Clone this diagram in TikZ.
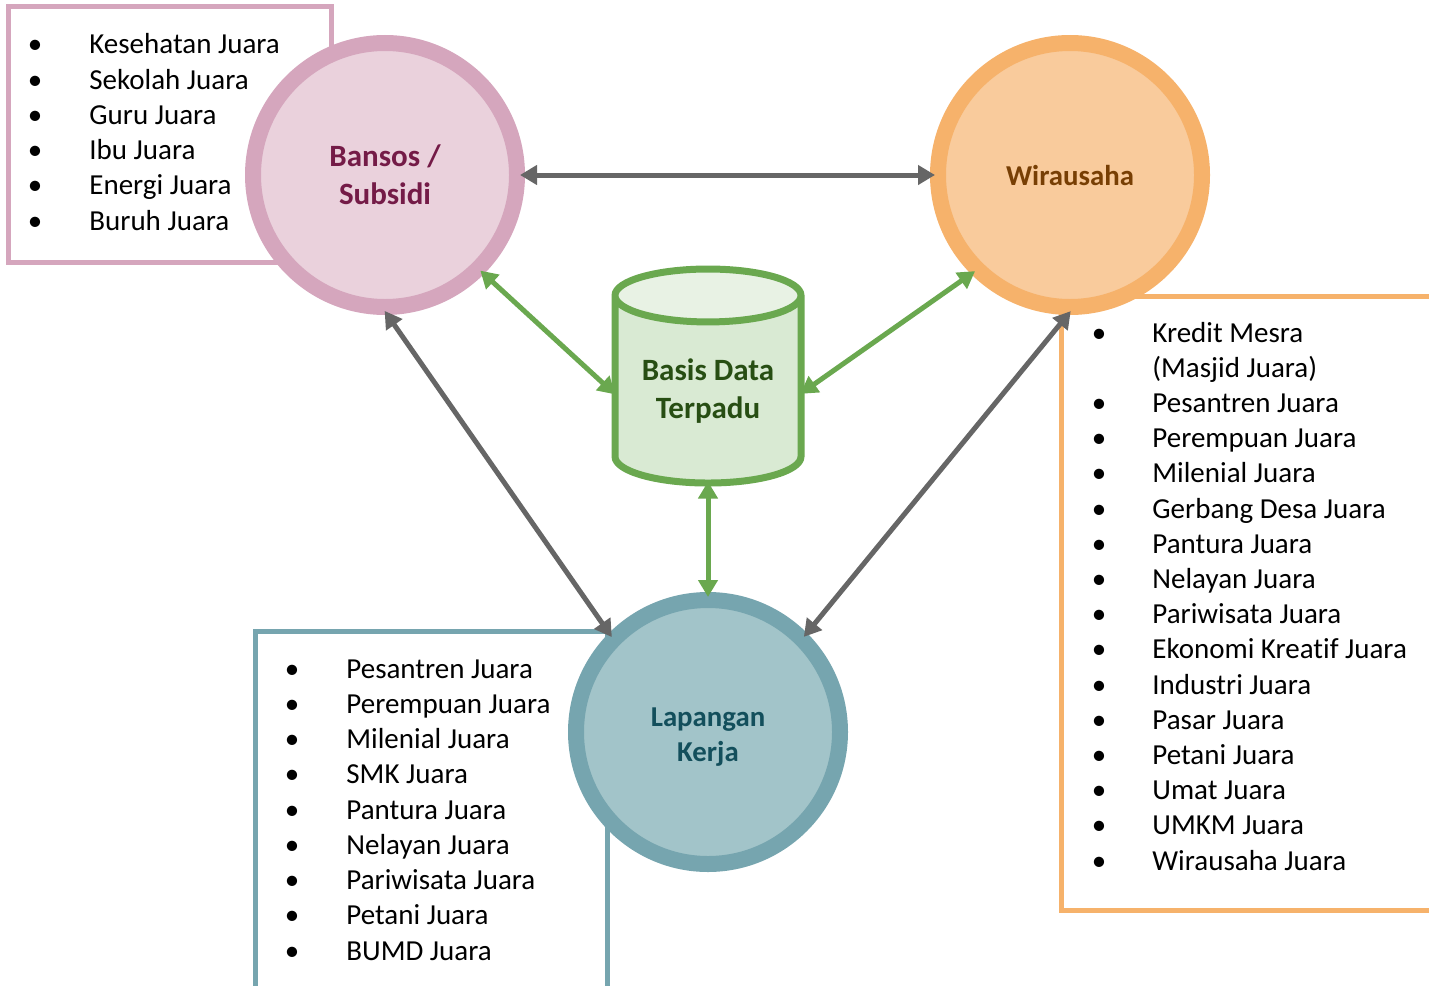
\documentclass[tikz,border=0pt]{standalone}
\usepackage{fontspec}
\setmainfont[Ligatures={NoCommon,NoRare}]{Carlito}
\usetikzlibrary{arrows.meta,shapes.geometric}
\definecolor{bansosring}{HTML}{D5A6BD}
\definecolor{bansosfill}{HTML}{EAD1DC}
\definecolor{bansostext}{HTML}{741B47}
\definecolor{wiraring}{HTML}{F6B26B}
\definecolor{wirafill}{HTML}{F9CB9C}
\definecolor{wiratext}{HTML}{783F04}
\definecolor{lapring}{HTML}{76A5AF}
\definecolor{lapfill}{HTML}{A2C4C9}
\definecolor{laptext}{HTML}{134F5C}
\definecolor{dbline}{HTML}{6AA84F}
\definecolor{dbfill}{HTML}{D9EAD3}
\definecolor{dbtop}{HTML}{E8F2E4}
\definecolor{dbtext}{HTML}{274E13}
\definecolor{linkgray}{HTML}{666666}
\tikzset{
  ring/.style={circle, minimum size=132pt, line width=8pt, inner sep=0pt, align=center,
    font=\bfseries\fontsize{14.4pt}{17.5pt}\selectfont},
  bul/.style={anchor=base, inner sep=0pt, font=\fontsize{14.5pt}{17.6pt}\selectfont},
  itm/.style={anchor=base west, inner sep=0pt, font=\fontsize{14.5pt}{17.6pt}\selectfont},
  listbox/.style={line width=2.5pt},
  link/.style={line width=2.5pt, draw=linkgray, shorten <=-2.5pt, shorten >=-2.5pt,
    {Triangle[length=8.5pt,width=9.5pt]}-{Triangle[length=8.5pt,width=9.5pt]}},
  glink/.style={link, draw=dbline},
}
\begin{document}
\begin{tikzpicture}[x=0.5pt, y=-0.5pt]
  \useasboundingbox (0,0) rectangle (1429,985);

  % list boxes
  \draw[listbox, bansosring] (8,6) rectangle (331,262);
  \draw[listbox, wiraring] (1061,296) rectangle (1445,910);
  \draw[listbox, lapring] (255,631) rectangle (607,1000);

  % circles
  \node[ring, draw=bansosring, fill=bansosfill, text=bansostext,
    font=\bfseries\fontsize{15.5pt}{19pt}\selectfont] (bansos) at (385,175) {Bansos /\\Subsidi};
  \node[ring, draw=wiraring, fill=wirafill, text=wiratext] (wira) at (1070,175) {Wirausaha};
  \node[ring, draw=lapring, fill=lapfill, text=laptext, text height=29.5pt, text depth=0pt] (lap) at (708,732) {Lapangan\\Kerja};

  % database
  \node[cylinder, shape border rotate=90, aspect=0.4, minimum width=93pt, minimum height=107pt,
    line width=3.5pt, draw=dbline, cylinder uses custom fill, cylinder body fill=dbfill,
    cylinder end fill=dbtop, align=center, text=dbtext, inner sep=0pt,
    font=\bfseries\fontsize{15.5pt}{19pt}\selectfont] (db) at (708,391) {Basis Data\\Terpadu};

  % connectors
  \draw[link] (bansos.east) -- (wira.west);
  \draw[link] (bansos.-89) -- (lap.135);
  \draw[link] (wira.-91) -- (lap.45);
  \draw[glink] (bansos.-45) -- (db.west);
  \draw[glink] (wira.-135) -- (db.east);
  \draw[glink] (db.south) -- (lap.north);

  % Bansos list
  \foreach \t [count=\i] in {Kesehatan Juara, Sekolah Juara, Guru Juara, Ibu Juara, Energi Juara, Buruh Juara} {
    \node[bul] (bb\i) at (35,{18.8+35.2*\i}) {\textbullet};
    \node[itm] (bt\i) at (89,{18.8+35.2*\i}) {\t};
  }

  % Wirausaha list
  \node[bul] (wb1) at (1099,342) {\textbullet};
  \node[itm] (wt1) at (1152,342) {Kredit Mesra};
  \node[itm] (wt2) at (1152,377.2) {(Masjid Juara)};
  \foreach \t [count=\i from 3] in {Pesantren Juara, Perempuan Juara, Milenial Juara, Gerbang Desa Juara,
      Pantura Juara, Nelayan Juara, Pariwisata Juara, Ekonomi Kreatif Juara, Industri Juara,
      Pasar Juara, Petani Juara, Umat Juara, UMKM Juara, Wirausaha Juara} {
    \node[bul] (wb\i) at (1099,{306.8+35.2*\i}) {\textbullet};
    \node[itm] (wt\i) at (1152,{306.8+35.2*\i}) {\t};
  }

  % Lapangan Kerja list
  \foreach \t [count=\i] in {Pesantren Juara, Perempuan Juara, Milenial Juara, SMK Juara, Pantura Juara,
      Nelayan Juara, Pariwisata Juara, Petani Juara, BUMD Juara} {
    \node[bul] (lb\i) at (292,{642.75+35.25*\i}) {\textbullet};
    \node[itm] (lt\i) at (346,{642.75+35.25*\i}) {\t};
  }
\end{tikzpicture}
\end{document}
